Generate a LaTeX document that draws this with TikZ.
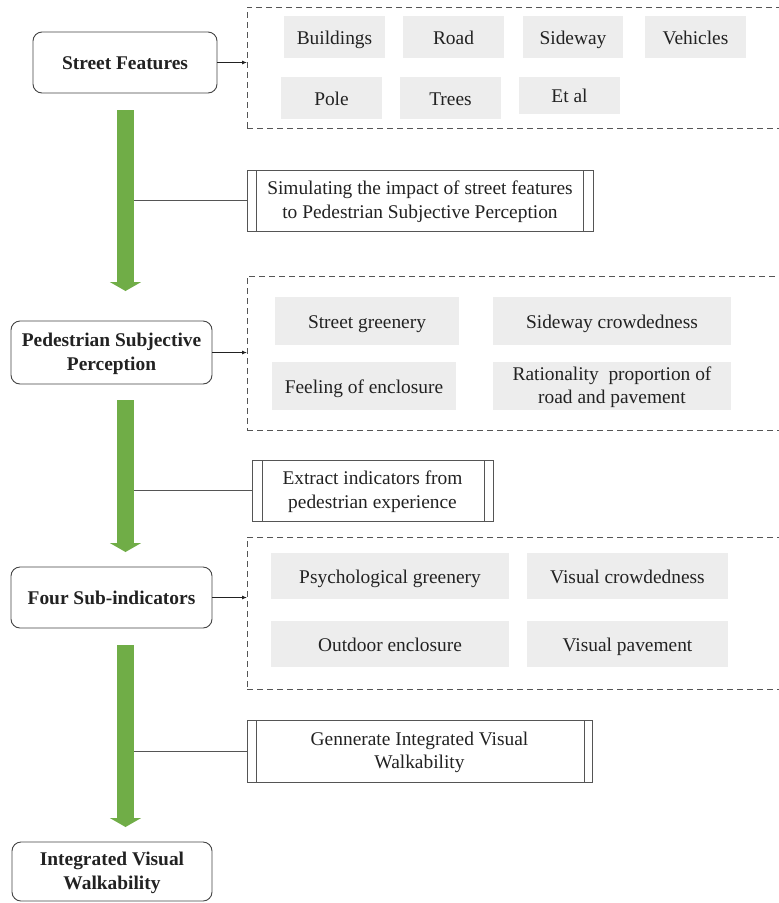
\documentclass[tikz,border=0pt]{standalone}
\usepackage{fontspec}
\setmainfont{Liberation Serif}
\usetikzlibrary{arrows.meta,calc}
\definecolor{gfill}{HTML}{EDEDED}
\definecolor{agreen}{HTML}{70AD47}
\definecolor{lin}{HTML}{555555}
\definecolor{txt}{HTML}{222222}
\newcommand\strutA{\rule{0pt}{16pt}}
\newcommand\strutB{\rule[-4.5pt]{0pt}{4.5pt}}
\begin{document}
\begin{tikzpicture}[x=1pt,y=-1pt,
  every node/.style={inner sep=0pt,outer sep=0pt,anchor=north west,align=center,text=txt,
    font=\fontsize{19.4pt}{23.5pt}\selectfont},
  oneline/.style={text height=14pt,text depth=0pt},
  mainbox/.style={draw=lin!80!black,line width=0.9pt,rounded corners=9pt,fill=white,font=\fontsize{19.4pt}{23.5pt}\selectfont\bfseries},
  groupbox/.style={draw=lin,line width=0.8pt,dash pattern=on 6pt off 4pt},
  grey/.style={fill=gfill},
  procbox/.style={draw=lin,line width=0.8pt,fill=white},
  smallarrow/.style={draw=txt,line width=0.8pt,-{Latex[length=5pt,width=4pt]}},
  conn/.style={draw=lin,line width=0.8pt},
  garrow/.style={draw=agreen,line width=17pt,-{Triangle[length=9pt,width=31pt]}}
]
\useasboundingbox (0,0) rectangle (779,903);

% main boxes
\node[mainbox,oneline,minimum width=184pt,minimum height=61pt] (sf) at (33,32) {Street Features};
\node[mainbox,minimum width=201pt,minimum height=63pt] (psp) at (11,321) {\strutA Pedestrian Subjective\\Perception\strutB};
\node[mainbox,oneline,minimum width=201pt,minimum height=61pt] (fsi) at (11,567) {Four Sub-indicators};
\node[mainbox,minimum width=200pt,minimum height=59pt] (ivw) at (12,842) {\strutA Integrated Visual\\Walkability\strutB};

% group boxes
\node[groupbox,minimum width=532pt,minimum height=121pt] (d1) at (247,7) {};
\node[groupbox,minimum width=532pt,minimum height=154pt] (d2) at (247,276) {};
\node[groupbox,minimum width=532pt,minimum height=152pt] (d3) at (247,537) {};

% street features
\node[grey,oneline,minimum width=101pt,minimum height=42pt] (b1) at (284,16) {Buildings};
\node[grey,oneline,minimum width=101pt,minimum height=42pt] (b2) at (403,16) {Road};
\node[grey,oneline,minimum width=100pt,minimum height=42pt] (b3) at (523,16) {Sideway};
\node[grey,oneline,minimum width=101pt,minimum height=42pt] (b4) at (645,16) {Vehicles};
\node[grey,oneline,minimum width=101pt,minimum height=42pt] (b5) at (281,77) {Pole};
\node[grey,oneline,minimum width=101pt,minimum height=42pt] (b6) at (400,77) {Trees};
\node[grey,oneline,minimum width=101pt,minimum height=37pt] (b7) at (519,77) {Et al};

% perception
\node[grey,oneline,minimum width=184pt,minimum height=48pt] (p1) at (275,297) {Street greenery};
\node[grey,oneline,minimum width=238pt,minimum height=48pt] (p2) at (493,297) {Sideway crowdedness};
\node[grey,oneline,minimum width=184pt,minimum height=48pt] (p3) at (272,362) {Feeling of enclosure};
\node[grey,minimum width=238pt,minimum height=48pt] (p4) at (493,362) {\strutA Rationality\ \ proportion of\\road and pavement\strutB};

% sub-indicators
\node[grey,oneline,minimum width=238pt,minimum height=46pt] (s1) at (271,553) {Psychological greenery};
\node[grey,oneline,minimum width=201pt,minimum height=46pt] (s2) at (527,553) {Visual crowdedness};
\node[grey,oneline,minimum width=238pt,minimum height=46pt] (s3) at (271,621) {Outdoor enclosure};
\node[grey,oneline,minimum width=201pt,minimum height=46pt] (s4) at (527,621) {Visual pavement};

% process boxes
\node[procbox,minimum width=346pt,minimum height=61pt] (sim) at (247,170) {\strutA Simulating the impact of street features\\to Pedestrian Subjective Perception\strutB};
\node[procbox,minimum width=241pt,minimum height=61pt] (ext) at (252,460) {\strutA Extract indicators from\\pedestrian experience\strutB};
\node[procbox,minimum width=345pt,minimum height=62pt] (gen) at (247,720) {\strutA Gennerate Integrated Visual\\Walkability\strutB};
\foreach \b/\l/\r in {sim/9/10, ext/10/9, gen/9/8}{
  \draw[conn] ([xshift=\l pt]\b.north west) -- ([xshift=\l pt]\b.south west);
  \draw[conn] ([xshift=-\r pt]\b.north east) -- ([xshift=-\r pt]\b.south east);
}

% small arrows
\draw[smallarrow] (sf.east) -- (d1.west |- sf.east);
\draw[smallarrow] (psp.east) -- (d2.west |- psp.east);
\draw[smallarrow] (fsi.east) -- (d3.west |- fsi.east);

% shaft positions
\coordinate (g1) at ($(sf.south)+(0.5,17)$);
\coordinate (g2) at (125.5,400);
\coordinate (g3) at (125.5,645);

% connectors from shafts to process boxes
\draw[conn] (g1 |- sim.west) -- (sim.west);
\draw[conn] (g2 |- ext.west) -- (ext.west);
\draw[conn] (g3 |- gen.west) -- (gen.west);

% green arrows
\draw[garrow] (g1) -- (g1 |- {$(psp.north)+(0,-30)$});
\draw[garrow] (g2) -- (g2 |- {$(fsi.north)+(0,-15)$});
\draw[garrow] (g3) -- (g3 |- {$(ivw.north)+(0,-15)$});
\end{tikzpicture}
\end{document}
